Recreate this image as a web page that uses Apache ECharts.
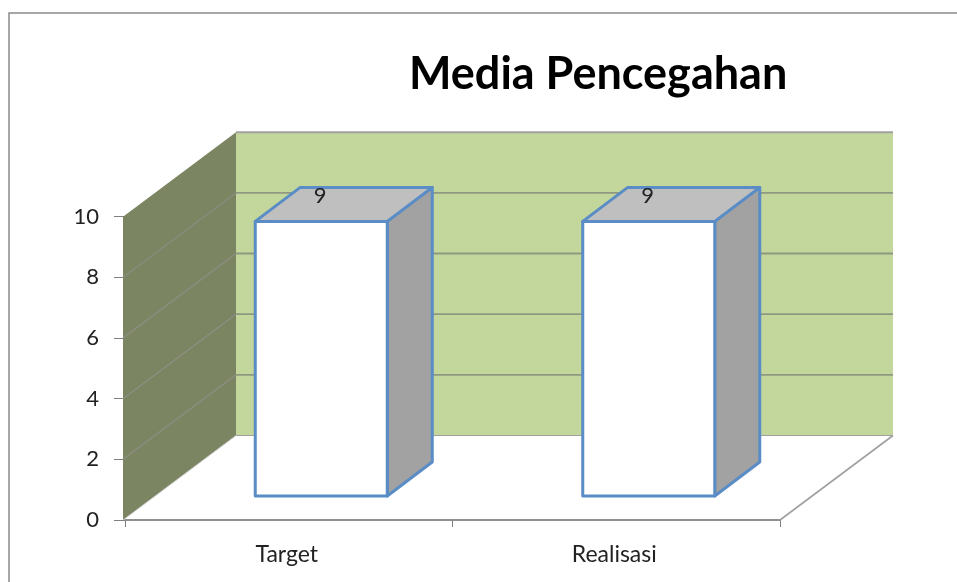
<!DOCTYPE html>
<html>
<head>
<meta charset="utf-8">
<style>html,body{margin:0;padding:0;background:#fff}#c{width:957px;height:582px}</style>
<script src="https://cdn.jsdelivr.net/npm/echarts@6/dist/echarts.min.js"></script>
</head>
<body>
<div id="c"></div>
<script>
const categories = ['Target', 'Realisasi'];
const values = [9, 9];
const yTicks = [0, 2, 4, 6, 8, 10];
const chartTitle = 'Media Pencegahan';

const FONT = 'Lato, "Open Sans", sans-serif';
const WALL = { dx: 113, dy: -84.5 };
const LEFT_INSET = 2;
const BAR_FRONT = { dx: 32.5, dy: -24 };
const BAR_DEPTH = { dx: 45, dy: -34 };
const BAR_WIDTH = 132;
const BACK_SCALE = 1.006;

function renderRoom(params, api) {
  const tl = api.coord([0, 10]);
  const bl = api.coord([0, 0]);
  const band = api.size([1, 0])[0];
  const x0 = bl[0] - band / 2;
  const x1 = x0 + band * categories.length;
  const y0 = bl[1];
  const y10 = tl[1];
  const d = WALL;
  const backL = x0 + d.dx - LEFT_INSET;
  const children = [];
  const poly = (pts, fill) => children.push({ type: 'polygon', shape: { points: pts }, style: { fill: fill, stroke: null } });
  const line = (a, b, c, w) => children.push({ type: 'line', shape: { x1: a[0], y1: a[1], x2: b[0], y2: b[1] }, style: { stroke: c, lineWidth: w } });
  poly([[backL, y10 + d.dy], [x1 + d.dx, y10 + d.dy], [x1 + d.dx, y0 + d.dy], [backL, y0 + d.dy]], '#c3d69b');
  poly([[x0 - 2, y10], [backL, y10 + d.dy], [backL, y0 + d.dy], [x0 - 2, y0]], '#7b8562');
  yTicks.forEach(t => {
    const y = api.coord([0, t])[1];
    if (t > 0) {
      if (t < 10) line([x0 - 2, y], [backL, y + d.dy], '#8e8e84', 1.2);
      line([backL, y + d.dy], [x1 + d.dx, y + d.dy], t === 10 ? '#a0a0a0' : '#8f9880', t === 10 ? 2 : 1.8);
    }
  });
  line([backL, y0 + d.dy], [x1 + d.dx, y0 + d.dy], '#a0a0a0', 1.2);
  line([x1, y0], [x1 + d.dx, y0 + d.dy], '#a0a0a0', 1.6);
  line([x0 - 2, y0], [backL, y0 + d.dy], '#c8c8c8', 1);
  return { type: 'group', children: children };
}

function renderBar(params, api) {
  const c = api.value(0);
  const v = api.value(1);
  const base = api.coord([c, 0]);
  const topY = api.coord([c, v])[1];
  const h = (base[1] - topY) * BACK_SCALE;
  const l = base[0] + BAR_FRONT.dx - BAR_WIDTH / 2;
  const r = l + BAR_WIDTH;
  const b = base[1] + BAR_FRONT.dy;
  const t = b - h;
  const dx = BAR_DEPTH.dx, dy = BAR_DEPTH.dy;
  const st = { stroke: '#5a8cc6', lineWidth: 3, lineJoin: 'round' };
  const poly = (pts, fill) => ({ type: 'polygon', shape: { points: pts }, style: Object.assign({ fill: fill }, st) });
  return {
    type: 'group',
    children: [
      poly([[r, t], [r + dx, t + dy], [r + dx, b + dy], [r, b]], '#a2a2a2'),
      poly([[l, t], [l + dx, t + dy], [r + dx, t + dy], [r, t]], '#bfbfbf'),
      poly([[l, t], [r, t], [r, b], [l, b]], '#ffffff'),
      { type: 'text', style: { x: (l + r) / 2 - 1, y: t - 25, text: String(v), font: '22px ' + FONT, fill: '#222', align: 'center', verticalAlign: 'middle' } }
    ]
  };
}

const chart = echarts.init(document.getElementById('c'), null, { renderer: 'canvas' });
chart.setOption({
  animation: false,
  backgroundColor: '#ffffff',
  title: {
    text: chartTitle,
    left: 404, top: 47,
    textStyle: { fontFamily: FONT, fontWeight: 'bold', fontSize: 45, color: '#000' }
  },
  graphic: [{
    type: 'polyline',
    shape: { points: [[9, 582], [9, 13], [957, 13]] },
    style: { stroke: '#8a8a8a', lineWidth: 1.5, fill: null }
  }],
  grid: { left: 125, right: 177, top: 216.7, bottom: 62 },
  xAxis: {
    type: 'category',
    data: categories,
    axisLine: { lineStyle: { color: '#909090', width: 2 } },
    axisTick: { show: true, alignWithLabel: false, length: 7, lineStyle: { color: '#808080' } },
    axisLabel: { show: true, margin: 23, fontFamily: FONT, fontSize: 23, color: '#222', padding: [0, 4, 0, 0] }
  },
  yAxis: {
    type: 'value',
    min: 0, max: 10, interval: 2,
    axisLine: { show: false },
    axisTick: { show: true, length: 11, lineStyle: { color: '#808080' } },
    splitLine: { show: false },
    axisLabel: { margin: 26, fontFamily: FONT, fontSize: 22, color: '#222', padding: [8, 0, 0, 0] }
  },
  series: [
    { type: 'custom', name: 'room', renderItem: renderRoom, data: [[0, 0]], encode: { x: 0, y: 1 }, clip: false, z: 1, silent: true },
    { type: 'custom', name: 'bars', renderItem: renderBar, data: values.map((v, i) => [i, v]), encode: { x: 0, y: 1 }, clip: false, z: 3 }
  ]
});
</script>
</body>
</html>
